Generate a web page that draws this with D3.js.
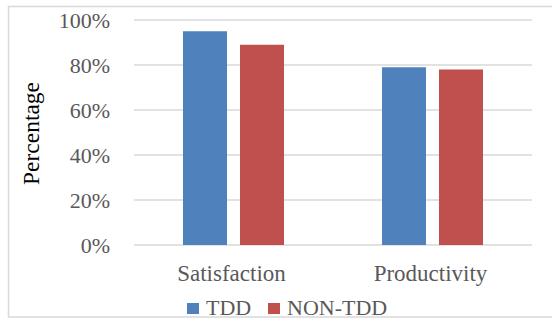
<!DOCTYPE html>
<html>
<head>
<meta charset="utf-8">
<script src="https://cdn.jsdelivr.net/npm/d3@7/dist/d3.min.js"></script>
<style>
  html, body { margin: 0; padding: 0; background: #fff; }
  svg { display: block; }
  svg text { font-family: 'Liberation Serif', 'Times New Roman', serif; }
</style>
</head>
<body>
<svg id="chart" width="552" height="320"></svg>
<script>
// Share of developers reporting each outcome, by practice
const categories = ["Satisfaction", "Productivity"];
const seriesNames = ["TDD", "NON-TDD"];
const tddValues = [95, 79];
const nonTddValues = [89, 78];
const yTicks = [0, 20, 40, 60, 80, 100];
const colors = ["#4f81bd", "#c0504d"];

const svg = d3.select("#chart");
const font = "'Liberation Serif', 'Times New Roman', serif";

// outer frame
svg.append("rect")
  .attr("x", 8.5).attr("y", 6.5)
  .attr("width", 560).attr("height", 310.5)
  .attr("fill", "#fff").attr("stroke", "#d9d9d9").attr("stroke-width", 1.5);

const plot = { left: 134, right: 532, top: 20, bottom: 245 };

const y = d3.scaleLinear().domain([0, 100]).range([plot.bottom, plot.top]);
const x0 = d3.scaleBand().domain(categories).range([plot.left, plot.right]);
const x1 = d3.scaleBand().domain(seriesNames)
  .range([0, 101]).paddingInner(0.228);

// gridlines
svg.append("g").selectAll("line").data(yTicks).join("line")
  .attr("x1", plot.left).attr("x2", plot.right)
  .attr("y1", d => y(d)).attr("y2", d => y(d))
  .attr("stroke", "#d9d9d9").attr("stroke-width", 1.5);

// y axis tick labels
const yAxis = d3.axisLeft(y).tickValues(yTicks).tickFormat(d => d + "%").tickSize(0).tickPadding(0);
const gy = svg.append("g").attr("transform", `translate(110,0)`).call(yAxis);
gy.select(".domain").remove();
gy.selectAll("text")
  .style("font-family", font).style("font-size", "22px").attr("fill", "#595959")
  .attr("dy", "0.35em");

// y axis title
svg.append("text")
  .attr("transform", "translate(39,133.5) rotate(-90)")
  .attr("text-anchor", "middle")
  .style("font-family", font).style("font-size", "23.5px").attr("fill", "#000")
  .text("Percentage");

// bars
const rows = categories.map((c, i) => ({
  category: c,
  values: [{ name: seriesNames[0], v: tddValues[i] }, { name: seriesNames[1], v: nonTddValues[i] }]
}));
const groups = svg.append("g").selectAll("g").data(rows).join("g")
  .attr("transform", d => `translate(${x0(d.category) + x0.bandwidth() / 2 - 50.5},0)`);
groups.selectAll("rect").data(d => d.values).join("rect")
  .attr("x", d => x1(d.name))
  .attr("width", x1.bandwidth())
  .attr("y", d => y(d.v))
  .attr("height", d => y(0) - y(d.v))
  .attr("fill", (d, i) => colors[i]);

// x axis labels
const xAxis = d3.axisBottom(x0).tickSize(0).tickPadding(0);
const gx = svg.append("g").attr("transform", `translate(-2,${plot.bottom + 36})`).call(xAxis);
gx.select(".domain").remove();
gx.selectAll("text")
  .style("font-family", font).style("font-size", "23px").attr("fill", "#595959")
  .attr("dy", "0");

// legend
const legendX = [187, 268];
const legend = svg.append("g").selectAll("g").data(seriesNames).join("g")
  .attr("transform", (d, i) => `translate(${legendX[i]},303)`);
legend.append("rect").attr("width", 12).attr("height", 11)
  .attr("fill", (d, i) => colors[i]);
legend.append("text")
  .attr("x", 19).attr("y", 12)
  .style("font-family", font).style("font-size", "22px").attr("fill", "#595959")
  .text(d => d);
</script>
</body>
</html>
